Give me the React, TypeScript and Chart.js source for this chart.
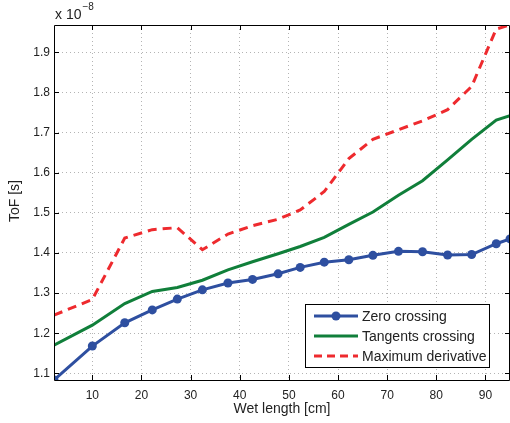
import React, { useEffect, useRef } from "react";
import { Chart, registerables } from "chart.js";

Chart.register(...registerables);

const wetLength = [2.2, 10, 16.6, 22.2, 27.3, 32.4, 37.6, 42.6, 47.8, 52.3, 57.2, 62.2, 67.1, 72.3, 77.2, 82.3, 87.2, 92.2, 95];
const zeroCrossing = [1.0834, 1.168, 1.226, 1.258, 1.285, 1.308, 1.325, 1.334, 1.348, 1.364, 1.377, 1.383, 1.394, 1.404, 1.403, 1.395, 1.396, 1.423, 1.435];
const tangentsCrossing = [1.170, 1.220, 1.274, 1.304, 1.314, 1.332, 1.358, 1.378, 1.398, 1.416, 1.439, 1.471, 1.502, 1.544, 1.580, 1.632, 1.683, 1.731, 1.742];
const maximumDerivative = [1.245, 1.284, 1.437, 1.458, 1.463, 1.408, 1.447, 1.468, 1.484, 1.507, 1.553, 1.635, 1.683, 1.707, 1.729, 1.757, 1.815, 1.958, 1.968];
const xTicks = [10, 20, 30, 40, 50, 60, 70, 80, 90];
const yTicks = [1.1, 1.2, 1.3, 1.4, 1.5, 1.6, 1.7, 1.8, 1.9];
const seriesNames = ["Zero crossing", "Tangents crossing", "Maximum derivative"];

const BLUE = "#2e4fa0";
const GREEN = "#107f3a";
const RED = "#ee2a2e";
const FONT = "'Liberation Sans', Arial, Helvetica, sans-serif";

const toPts = (ys: number[]) => wetLength.map((x, i) => ({ x, y: ys[i] }));

const framePlugin = {
  id: "matlabFrame",
  afterDatasetsDraw(chart: any) {
    const { ctx, chartArea: a, scales } = chart;
    const xs = scales.x, ys = scales.y;
    ctx.save();
    ctx.strokeStyle = "#000";
    ctx.lineWidth = 1;
    ctx.setLineDash([]);
    ctx.beginPath();
    ctx.rect(Math.round(a.left) + 0.5, Math.round(a.top) + 0.5, Math.round(a.right - a.left) - 1, Math.round(a.bottom - a.top));
    ctx.stroke();
    const tl = 5;
    ctx.beginPath();
    xTicks.forEach((t) => {
      const px = Math.round(xs.getPixelForValue(t)) + 0.5;
      ctx.moveTo(px, a.bottom); ctx.lineTo(px, a.bottom - tl);
      ctx.moveTo(px, a.top); ctx.lineTo(px, a.top + tl);
    });
    yTicks.forEach((t) => {
      const py = Math.round(ys.getPixelForValue(t)) + 0.5;
      ctx.moveTo(a.left, py); ctx.lineTo(a.left + tl, py);
      ctx.moveTo(a.right, py); ctx.lineTo(a.right - tl, py);
    });
    ctx.stroke();

    // exponent label
    ctx.fillStyle = "#222";
    ctx.font = `14px ${FONT}`;
    ctx.textAlign = "left";
    ctx.textBaseline = "alphabetic";
    ctx.fillText("x 10", 55, 19);
    const w = ctx.measureText("x 10").width;
    ctx.font = `10px ${FONT}`;
    ctx.fillText("\u22128", 55 + w + 1, 10);

    // axis titles
    ctx.font = `14px ${FONT}`;
    ctx.textAlign = "center";
    ctx.textBaseline = "middle";
    ctx.fillText("Wet length [cm]", (a.left + a.right) / 2, 409);
    ctx.save();
    ctx.translate(15, 201);
    ctx.rotate(-Math.PI / 2);
    ctx.fillText("ToF [s]", 0, 0);
    ctx.restore();

    // legend
    const bx = 305.5, by = 304.5, bw = 184, bh = 63;
    ctx.fillStyle = "#fff";
    ctx.fillRect(bx, by, bw, bh);
    ctx.strokeStyle = "#000";
    ctx.lineWidth = 1;
    ctx.strokeRect(bx, by, bw, bh);
    const rows = [316, 336, 356];
    const colors = [BLUE, GREEN, RED];
    rows.forEach((ry, i) => {
      ctx.strokeStyle = colors[i];
      ctx.lineWidth = 3;
      ctx.setLineDash(i === 2 ? [8, 5] : []);
      ctx.beginPath();
      ctx.moveTo(314, ry);
      ctx.lineTo(358, ry);
      ctx.stroke();
      ctx.setLineDash([]);
      if (i === 0) {
        ctx.fillStyle = BLUE;
        ctx.beginPath();
        ctx.arc(336, ry, 4.5, 0, Math.PI * 2);
        ctx.fill();
      }
      ctx.fillStyle = "#222";
      ctx.font = `14px ${FONT}`;
      ctx.textAlign = "left";
      ctx.textBaseline = "middle";
      ctx.fillText(seriesNames[i], 362, ry + 1);
    });
    ctx.restore();
  },
};

export default function App() {
  const ref = useRef<HTMLCanvasElement | null>(null);
  useEffect(() => {
    if (!ref.current) return;
    const chart = new Chart(ref.current, {
      type: "line",
      data: {
        datasets: [
          { label: seriesNames[2], data: toPts(maximumDerivative), borderColor: RED, borderWidth: 3, borderDash: [9, 6], pointRadius: 0, tension: 0, order: 3 },
          { label: seriesNames[1], data: toPts(tangentsCrossing), borderColor: GREEN, borderWidth: 3, pointRadius: 0, tension: 0, order: 2 },
          { label: seriesNames[0], data: toPts(zeroCrossing), borderColor: BLUE, backgroundColor: BLUE, borderWidth: 3, pointRadius: 4.5, pointBorderWidth: 0, tension: 0, order: 1 },
        ],
      },
      options: {
        animation: false,
        responsive: false,
        maintainAspectRatio: false,
        layout: { autoPadding: false, padding: { top: 25, right: 0, left: 0, bottom: 0 } },
        plugins: { legend: { display: false }, tooltip: { enabled: false }, title: { display: false } },
        scales: {
          x: {
            type: "linear", min: 2.2, max: 95,
            afterBuildTicks: (axis: any) => { axis.ticks = xTicks.map((v) => ({ value: v })); },
            afterFit: (axis: any) => { axis.height = 43; axis.paddingLeft = 0; axis.paddingRight = 0; },
            grid: { color: "#b4b4b4", lineWidth: 1, drawTicks: false },
            border: { display: false, dash: [1, 3] },
            ticks: { color: "#222", font: { family: FONT, size: 12 }, padding: 8, maxRotation: 0, autoSkip: false },
          },
          y: {
            type: "linear", min: 1.0834, max: 1.968,
            afterBuildTicks: (axis: any) => { axis.ticks = yTicks.map((v) => ({ value: v })); },
            afterFit: (axis: any) => { axis.width = 54; axis.paddingTop = 0; axis.paddingBottom = 0; },
            grid: { color: "#b4b4b4", lineWidth: 1, drawTicks: false },
            border: { display: false, dash: [1, 3] },
            ticks: { color: "#222", font: { family: FONT, size: 12 }, padding: 4, autoSkip: false, callback: (v: any) => Number(v).toFixed(1) },
          },
        },
      },
      plugins: [framePlugin],
    });
    return () => chart.destroy();
  }, []);
  return (
    <div style={{ position: "fixed", left: 0, top: 0, width: 510, height: 423, background: "#fff" }}>
      <canvas ref={ref} width={510} height={423} style={{ width: 510, height: 423, display: "block" }} />
    </div>
  );
}
